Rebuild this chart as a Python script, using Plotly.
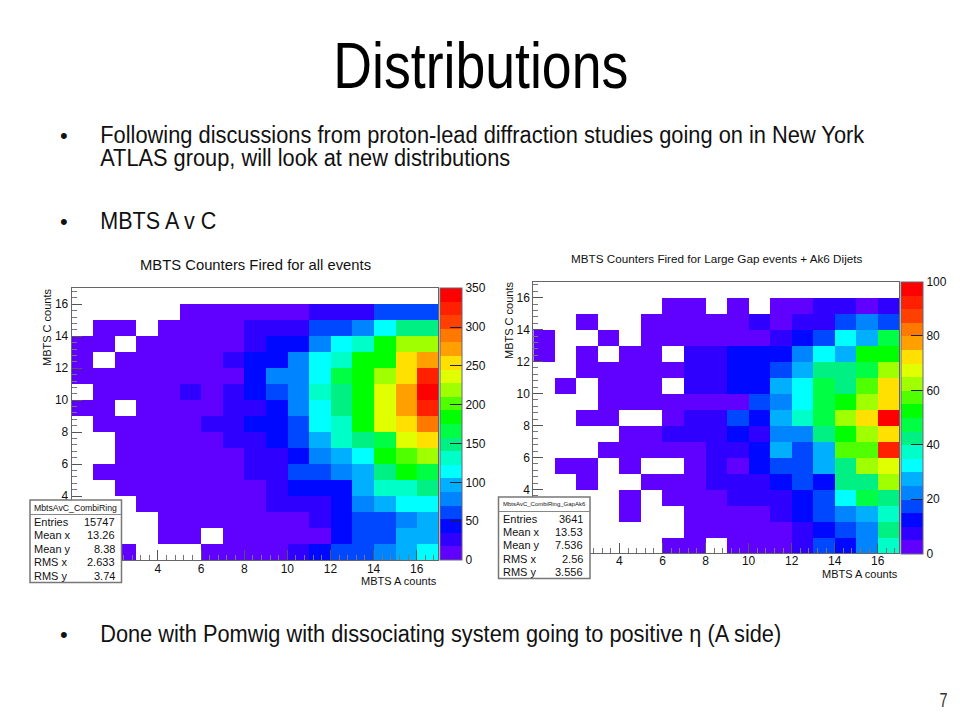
import json
import plotly.graph_objects as go

_ = None
# Bin counts, rows from y-bin 0 (bottom) to 16 (top), columns x-bin 0..16
counts_all = [
 [_,_,9,_,_,_,9,9,9,9,26,44,61,61,79,96,114],
 [_,_,_,_,9,9,_,9,9,9,9,9,44,61,61,96,96],
 [_,_,_,_,9,9,9,9,9,9,9,26,44,61,61,79,96],
 [_,_,_,9,9,9,9,9,9,26,26,26,44,79,96,114,114],
 [_,_,9,9,9,9,9,9,9,26,44,44,44,96,131,131,149],
 [_,9,9,9,9,9,9,9,26,26,61,61,79,96,149,184,166],
 [_,_,9,9,9,9,9,9,26,26,44,79,96,114,184,201,219],
 [_,_,9,9,9,9,9,26,26,44,61,96,131,149,166,236,254],
 [_,9,9,9,9,9,26,26,44,44,61,114,131,184,236,254,289],
 [9,9,_,9,9,9,9,26,26,44,79,114,149,184,236,271,324],
 [_,9,9,9,9,26,9,26,44,61,79,131,149,184,236,271,341],
 [9,9,9,9,9,9,9,9,44,79,79,114,166,184,219,254,315],
 [9,_,9,9,9,9,9,26,44,44,79,114,131,184,176,254,271],
 [9,9,_,9,9,9,9,9,26,44,44,79,114,131,184,210,210],
 [_,9,9,_,9,9,9,9,26,26,26,61,61,79,114,149,149],
 [_,_,_,_,_,9,9,9,9,9,9,26,26,26,61,61,61],
 [_,_,_,_,_,_,_,_,_,_,_,_,_,_,_,_,_],
]
counts_gap = [
 [_,_,_,_,_,_,2,2,_,2,2,2,7,17,12,22,37],
 [_,_,_,_,_,_,_,2,2,2,2,2,7,12,17,22,42],
 [_,_,_,_,2,_,_,2,2,2,2,7,12,17,22,27,37],
 [_,_,_,_,2,_,2,2,2,7,7,7,12,17,32,47,42],
 [_,_,2,_,_,2,2,2,7,7,7,12,17,12,42,42,62],
 [_,2,2,_,2,_,_,2,7,2,12,17,17,27,42,62,67],
 [_,_,_,2,2,2,2,2,7,7,12,27,17,27,57,57,92],
 [_,_,_,_,2,2,7,7,7,12,7,22,22,42,52,62,72],
 [_,_,2,2,_,_,2,7,7,17,12,27,37,47,62,72,97],
 [_,_,_,2,2,2,2,2,4,4,17,22,32,47,52,62,72],
 [_,2,_,2,2,2,_,7,7,12,12,27,32,47,42,57,72],
 [_,_,2,2,2,2,2,7,7,12,12,17,27,42,42,47,62],
 [2,_,2,_,2,2,_,7,7,12,12,12,22,32,27,52,52],
 [2,_,_,2,_,2,2,2,2,2,2,7,12,17,32,27,47],
 [_,_,2,_,_,2,2,2,2,2,7,2,7,7,17,22,17],
 [_,_,_,_,_,_,2,2,_,2,_,2,2,7,7,2,7],
 [_,_,_,_,_,_,_,_,_,_,_,_,_,_,_,_,_],
]
bin_centres = [0.5,1.5,2.5,3.5,4.5,5.5,6.5,7.5,8.5,9.5,10.5,11.5,12.5,13.5,14.5,15.5,16.5]
axis_ticks = [4,6,8,10,12,14,16]
cbar_ticks_all = [0,50,100,150,200,250,300,350]
cbar_ticks_gap = [0,20,40,60,80,100]
palette = ["#6000ff","#3000ff","#0008ff","#0048ff","#0084ff","#00b0ff","#00ffff","#00ffc8",
           "#00f084","#00ff44","#00ff00","#50ff00","#a0ff00","#e0ff00","#ffe000","#ffa000",
           "#ff7800","#ff4000","#ff2000","#ff0000"]

title_text = "Distributions"
bullet_texts = [
    "Following discussions from proton-lead diffraction studies going on in New York",
    "ATLAS group, will look at new distributions",
    "MBTS A v C",
    "Done with Pomwig with dissociating system going to positive η (A side)",
]
stats_all = [("Entries","15747"),("Mean x","13.26"),("Mean y","8.38"),("RMS x","2.633"),("RMS y","3.74")]
stats_gap = [("Entries","3641"),("Mean x","13.53"),("Mean y","7.536"),("RMS x","2.56"),("RMS y","3.556")]

# layout of the slide text: (left edge, right edge, y centre)
bullet_spans = [(100, 864, 135), (100, 510, 158), (100, 216, 221), (100, 781, 634)]
bullet_marks = [135, 221, 634]

W, H = 960, 720
SANS = "Liberation Sans"
def px(x): return x / W
def py(y): return 1 - y / H

n = len(palette)
scale = []
for i, c in enumerate(palette):
    scale += [[i / n, c], [(i + 1) / n, c]]

fig = go.Figure()
annots, shapes = [], []
squeeze = {}

def note(x, y, text, size, anchor="left", color="#111", angle=0):
    annots.append(dict(x=px(x), y=py(y), xref="paper", yref="paper", text=text, showarrow=False,
                       xanchor=anchor, yanchor="middle", textangle=angle,
                       font=dict(family=SANS, size=size, color=color)))

def panel(z, xname, yname, box, zmax, cticks, cx, title, tx, ty, tsize, stats, sbox, shead, hsize, xt, yt, stand):
    x0, x1, y0, y1 = box
    fig.add_trace(go.Heatmap(
        z=z, x=bin_centres, y=bin_centres, xaxis=xname, yaxis=yname, zmin=0, zmax=zmax,
        colorscale=scale, hoverongaps=False,
        colorbar=dict(x=px(cx), xanchor="left", xpad=0, ypad=0, y=py((y0 + y1) / 2), yanchor="middle",
                      len=(y1 - y0) / H, lenmode="fraction", thickness=22, thicknessmode="pixels",
                      tickvals=cticks, ticks="inside", ticklen=12, tickcolor="#223", tickwidth=1,
                      outlinewidth=1, outlinecolor="#667",
                      tickfont=dict(family=SANS, size=12, color="#111"))))
    ax = dict(range=[0, 17], tickvals=axis_ticks, ticks="inside", ticklen=10, tickcolor="#555",
              tickfont=dict(family=SANS, size=12, color="#111"), showgrid=False, zeroline=False,
              showline=True, linecolor="#666", linewidth=1, mirror=True,
              minor=dict(dtick=0.4, tick0=0, ticks="inside", ticklen=5, tickcolor="#777", showgrid=False))
    fig.update_layout({
        xname.replace("x", "xaxis"): dict(ax, domain=[px(x0), px(x1)], anchor=yname, ticklabelstandoff=stand),
        yname.replace("y", "yaxis"): dict(ax, domain=[py(y1), py(y0)], anchor=xname),
    })
    note(tx, ty, title, tsize, "center")
    note(xt[0], xt[1], "MBTS A counts", 11, "right")
    note(yt[0], yt[1], "MBTS C counts", 11, "center", angle=-90)
    bx0, bx1, by0, by1 = sbox
    shapes.append(dict(type="rect", xref="paper", yref="paper", x0=px(bx0), x1=px(bx1), y0=py(by1), y1=py(by0),
                       fillcolor="white", line=dict(color="#777", width=1.5)))
    shapes.append(dict(type="line", xref="paper", yref="paper", x0=px(bx0), x1=px(bx1),
                       y0=py(by0 + 14.5), y1=py(by0 + 14.5), line=dict(color="#888", width=1)))
    note((bx0 + bx1) / 2, by0 + 7.5, shead, hsize, "center")
    step = (by1 - by0 - 15) / len(stats)
    for i, (k, v) in enumerate(stats):
        yy = by0 + 15 + step * (i + 0.5)
        note(bx0 + 2, yy, k, 11, "left")
        note(bx1 - 5, yy, v, 11, "right")

panel(counts_all, "x", "y", (71.7, 438.3, 288.3, 560), 350, cbar_ticks_all, 440,
      "MBTS Counters Fired for all events", 255, 265, 14.8,
      stats_all, (30, 121.5, 500, 582.5), "MbtsAvC_CombiRing", 8.7, (439, 581), (47, 327), -2)
panel(counts_gap, "x2", "y2", (533.3, 899.3, 281.7, 553.3), 100, cbar_ticks_gap, 901,
      "MBTS Counters Fired for Large Gap events + Ak6 Dijets", 716, 258, 11.7,
      stats_gap, (498.5, 590, 497, 578.5), "MbtsAvC_CombiRing_GapAk6", 6, (900, 574), (509, 320), -4)

# Slide text: glyphs are squeezed horizontally in the page to imitate the narrow face
note(480.5, 65, title_text, 65, "center", color="#000")
squeeze[title_text] = 295
for text, (a, b, y) in zip(bullet_texts, bullet_spans):
    note((a + b) / 2, y, text, 23.5, "center")
    squeeze[text] = b - a
for y in bullet_marks:
    note(64, y, "•", 22, "center")
note(943, 700, "7", 20, "center", color="#333")
squeeze["7"] = 8

fig.update_layout(width=W, height=H, margin=dict(l=0, r=0, t=0, b=0), paper_bgcolor="white",
                  plot_bgcolor="white", showlegend=False, annotations=annots, shapes=shapes)

post = """
document.body.style.margin='0';
var widths = %s;
document.querySelectorAll('.annotation-text').forEach(function(t){
  var w = widths[t.textContent];
  if (w) { t.setAttribute('textLength', w); t.setAttribute('lengthAdjust', 'spacingAndGlyphs'); }
});
""" % json.dumps(squeeze, ensure_ascii=False)
fig.write_html("out.html", post_script=post, config=dict(displayModeBar=False))
